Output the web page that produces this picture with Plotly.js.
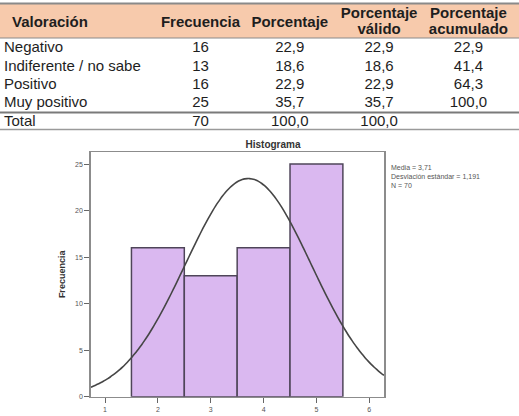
<!DOCTYPE html>
<html>
<head>
<meta charset="utf-8">
<script src="https://cdn.plot.ly/plotly-3.0.1.min.js"></script>
<style>
  html, body { margin: 0; padding: 0; background: #ffffff; }
  #chart { width: 519px; height: 416px; }
</style>
</head>
<body>
<div id="chart"></div>
<script>
// Frequency table for "Valoración"
const categories = ["Negativo", "Indiferente / no sabe", "Positivo", "Muy positivo"];
const codes = [2, 3, 4, 5];
const frecuencia = [16, 13, 16, 25];
const porcentaje = [22.9, 18.6, 22.9, 35.7];
const porcentajeValido = [22.9, 18.6, 22.9, 35.7];
const porcentajeAcumulado = [22.9, 41.4, 64.3, 100.0];
const totalLabel = "Total";
const totalFrecuencia = 70;
const totalPorcentaje = 100.0;
const totalValido = 100.0;

// Summary statistics shown next to the histogram
const media = 3.71;
const desviacion = 1.191;
const n = 70;

// Column headers, one entry per line of text
const headerLabel = "Valoración";
const headers = [["Frecuencia"], ["Porcentaje"], ["Porcentaje", "válido"], ["Porcentaje", "acumulado"]];
const xTicks = [1, 2, 3, 4, 5, 6];
const yTicks = [0, 5, 10, 15, 20, 25];

const W = 519, H = 416;
const FONT = 'Liberation Sans, Arial, sans-serif';
const fmt = v => v.toFixed(1).replace('.', ',');
const fmtStat = v => String(v).replace('.', ',');
const px = x => x / W;
const py = y => 1 - y / H;

// ---- Table, laid out on its own axes: x = column index, y = row index ----
const colStep = 89.3, colOrigin = 200.5;      // pixel centre of column 1 and spacing
const rowStep = 18.4, rowOrigin = 48.5;       // pixel centre of row 0 and spacing
const pxToCol = p => 1 + (p - colOrigin) / colStep;
const pxToRow = p => (p - rowOrigin) / rowStep;
const labelCol = pxToCol(4);
const headerLabelCol = pxToCol(12);
const headerMid = pxToRow(23);
const headerLine1 = pxToRow(14);
const headerLine2 = pxToRow(30.5);

const rowIdx = categories.concat([totalLabel]).map((_, i) => i);
const numericColumns = [
  frecuencia.map(String).concat([String(totalFrecuencia)]),
  porcentaje.map(fmt).concat([fmt(totalPorcentaje)]),
  porcentajeValido.map(fmt).concat([fmt(totalValido)]),
  porcentajeAcumulado.map(fmt).concat([''])
];

const tableFont = { family: FONT, size: 15, color: '#1e1e1e' };
const textTrace = (xs, ys, texts, pos) => ({
  type: 'scatter', mode: 'text',
  x: xs, y: ys, text: texts,
  textposition: pos,
  textfont: tableFont,
  xaxis: 'x2', yaxis: 'y2',
  hoverinfo: 'skip', cliponaxis: false
});

const tableTraces = [];
// row labels
tableTraces.push(textTrace(rowIdx.map(() => labelCol), rowIdx, categories.concat([totalLabel]), 'middle right'));
// numeric columns
numericColumns.forEach((col, c) => {
  tableTraces.push(textTrace(col.map(() => c + 1), rowIdx, col, 'middle center'));
});
// header row
tableTraces.push(textTrace([headerLabelCol], [headerMid], ['<b>' + headerLabel + '</b>'], 'middle right'));
const hx = [], hy = [], ht = [];
headers.forEach((lines, c) => {
  const ys = lines.length === 1 ? [headerMid] : [headerLine1, headerLine2];
  lines.forEach((line, k) => { hx.push(c + 1); hy.push(ys[k]); ht.push('<b>' + line + '</b>'); });
});
tableTraces.push(textTrace(hx, hy, ht, 'middle center'));

// ---- Histogram with fitted normal curve ----
const barTrace = {
  type: 'bar',
  x: codes,
  y: frecuencia,
  width: 1,
  marker: { color: '#dab8f0', line: { color: '#4f4559', width: 1.5 } },
  xaxis: 'x', yaxis: 'y',
  hoverinfo: 'skip'
};

// Normal density scaled to the counts (bin width 1)
const curveX = [];
const curveY = [];
const x0 = 0.729, x1 = 6.278, steps = 120;
for (let i = 0; i <= steps; i++) {
  const x = x0 + (x1 - x0) * i / steps;
  const z = (x - media) / desviacion;
  curveX.push(x);
  curveY.push(n / (desviacion * Math.sqrt(2 * Math.PI)) * Math.exp(-0.5 * z * z));
}
const curveTrace = {
  type: 'scatter', mode: 'lines',
  x: curveX, y: curveY,
  line: { color: '#464646', width: 1.6, shape: 'spline' },
  xaxis: 'x', yaxis: 'y',
  hoverinfo: 'skip'
};

const hline = (y, color, width) => ({
  type: 'line', xref: 'paper', yref: 'paper',
  x0: 0, x1: 1, y0: py(y), y1: py(y),
  line: { color: color, width: width }
});

const layout = {
  width: W, height: H,
  margin: { l: 0, r: 0, t: 0, b: 0 },
  paper_bgcolor: '#ffffff',
  plot_bgcolor: 'rgba(0,0,0,0)',
  showlegend: false,
  bargap: 0,
  font: { family: FONT },
  title: {
    text: '<b>Histograma</b>',
    font: { family: FONT, size: 10, color: '#333333' },
    xref: 'paper', yref: 'paper',
    x: px(273), y: py(144),
    xanchor: 'center', yanchor: 'middle'
  },
  xaxis: {
    domain: [px(90.7), px(384)],
    range: [x0, x1],
    tickvals: xTicks,
    ticktext: xTicks.map(String),
    ticks: 'outside', ticklen: 5, tickcolor: '#666666', tickwidth: 1,
    tickfont: { size: 7, color: '#555555' },
    showline: true, mirror: true, linecolor: '#8c8c8c', linewidth: 1.5,
    showgrid: false, zeroline: false,
    fixedrange: true
  },
  yaxis: {
    domain: [1 - 396.7 / H, 1 - 152 / H],
    range: [0, 26.3],
    tickvals: yTicks,
    ticks: 'outside', ticklen: 5, tickcolor: '#666666', tickwidth: 1,
    tickfont: { size: 7, color: '#555555' },
    showline: true, mirror: true, linecolor: '#8c8c8c', linewidth: 1.5,
    showgrid: false, zeroline: false,
    title: {
      text: '<b>Frecuencia</b>',
      font: { size: 9, color: '#333333' },
      standoff: 8
    },
    fixedrange: true
  },
  xaxis2: {
    domain: [0, 1], anchor: 'y2',
    range: [pxToCol(0), pxToCol(W)],
    visible: false, fixedrange: true
  },
  yaxis2: {
    domain: [0, 1], anchor: 'x2',
    range: [pxToRow(H), pxToRow(0)],
    visible: false, fixedrange: true
  },
  annotations: [{
    xref: 'paper', yref: 'paper',
    x: px(389), y: py(162),
    xanchor: 'left', yanchor: 'top',
    align: 'left',
    showarrow: false,
    text: 'Media = ' + fmtStat(media) + '<br>Desviación estándar = ' + fmtStat(desviacion) + '<br>N = ' + n,
    font: { size: 7, color: '#555555' }
  }],
  shapes: [
    { type: 'rect', xref: 'paper', yref: 'paper', layer: 'below',
      x0: 0, x1: 1, y0: py(38), y1: py(4),
      fillcolor: '#f7caac', line: { width: 0 } },
    hline(3.5, '#8a8a8a', 2),
    hline(38, '#8a8a8a', 1),
    hline(112.5, '#7a7a7a', 2),
    hline(129.5, '#9a9a9a', 1.5)
  ]
};

Plotly.newPlot('chart', [barTrace, curveTrace].concat(tableTraces), layout,
  { displayModeBar: false, staticPlot: true });
</script>
</body>
</html>
